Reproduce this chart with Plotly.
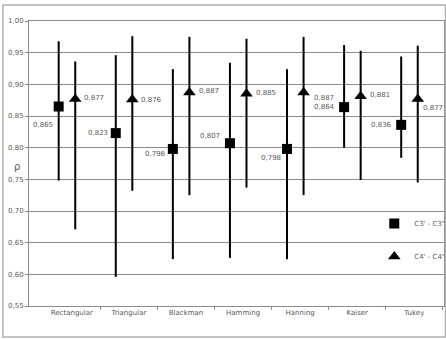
import plotly.graph_objects as go

categories = ["Rectangular", "Triangular", "Blackman", "Hamming", "Hanning", "Kaiser", "Tukey"]

# Series C3'-C3" (squares)
c3_mean = [0.865, 0.823, 0.798, 0.807, 0.798, 0.864, 0.836]
c3_high = [0.968, 0.946, 0.924, 0.934, 0.924, 0.962, 0.944]
c3_low = [0.748, 0.596, 0.624, 0.626, 0.624, 0.800, 0.784]

# Series C4'-C4" (triangles)
c4_mean = [0.877, 0.876, 0.887, 0.885, 0.887, 0.881, 0.877]
c4_high = [0.936, 0.976, 0.975, 0.972, 0.975, 0.953, 0.961]
c4_low = [0.671, 0.732, 0.725, 0.737, 0.725, 0.749, 0.745]

y_ticks = [0.55, 0.60, 0.65, 0.70, 0.75, 0.80, 0.85, 0.90, 0.95, 1.00]

# styles
C3_OFF = -0.23
C4_OFF = 0.06
c3_label_shift = [(-4, -18), (-6, 0), (-6, -5), (-8, 7), (-4, -9), (-7, 0), (-7, 0)]
c4_label_shift = [(7, 1), (7, 0), (8, 2), (8, 1), (8, -5), (7, 1), (3, -9)]

FONT = "DejaVu Sans"
TXT = "#5a5a5a"
GRID = "#8c8c8c"

idx = list(range(len(categories)))
x3 = [i + C3_OFF for i in idx]
x4 = [i + C4_OFF for i in idx]

def fmt(v):
    return f"{v:.3f}".replace(".", ",")

fig = go.Figure()
fig.add_trace(go.Scatter(
    x=x3, y=c3_mean, mode="markers", name="C3' - C3\"",
    marker=dict(symbol="square", size=10, color="black"),
    error_y=dict(type="data", symmetric=False,
                 array=[h - m for h, m in zip(c3_high, c3_mean)],
                 arrayminus=[m - l for l, m in zip(c3_low, c3_mean)],
                 width=0, thickness=2, color="black"),
    legendgroup="a",
))
fig.add_trace(go.Scatter(
    x=x4, y=c4_mean, mode="markers", name="C4' - C4\"",
    marker=dict(symbol="triangle-up", size=11, color="black"),
    error_y=dict(type="data", symmetric=False,
                 array=[h - m for h, m in zip(c4_high, c4_mean)],
                 arrayminus=[m - l for l, m in zip(c4_low, c4_mean)],
                 width=0, thickness=2, color="black"),
    legendgroup="b",
))

annotations = []
for x, v, (dx, dy) in zip(x3, c3_mean, c3_label_shift):
    annotations.append(dict(x=x, y=v, text=fmt(v), showarrow=False, xanchor="right",
                            yanchor="middle", xshift=dx, yshift=dy,
                            font=dict(family=FONT, size=7, color=TXT)))
for x, v, (dx, dy) in zip(x4, c4_mean, c4_label_shift):
    annotations.append(dict(x=x, y=v, text=fmt(v), showarrow=False, xanchor="left",
                            yanchor="middle", xshift=dx, yshift=dy,
                            font=dict(family=FONT, size=7, color=TXT)))
annotations.append(dict(x=-0.042, y=0.49, xref="paper", yref="paper", text="ρ",
                        showarrow=False, font=dict(family=FONT, size=10, color=TXT)))

fig.update_layout(
    width=446, height=339,
    margin=dict(l=29, r=2, t=21, b=33, autoexpand=False),
    paper_bgcolor="white", plot_bgcolor="white",
    separators=",.",
    font=dict(family=FONT, size=7, color=TXT),
    showlegend=True,
    legend=dict(x=0.832, y=0.34, xanchor="left", yanchor="top",
                bgcolor="rgba(0,0,0,0)", traceorder="grouped", tracegroupgap=14,
                font=dict(family=FONT, size=7, color=TXT), itemwidth=30),
    annotations=annotations,
    shapes=[dict(type="rect", xref="paper", yref="paper",
                 x0=-0.063, x1=1.0036, y0=-0.109, y1=1.056,
                 line=dict(color="#b0b0b0", width=1.5))],
)
fig.update_xaxes(
    automargin=False,
    range=[-0.75, 6.52], tickmode="array", tickvals=idx, ticktext=categories,
    ticks="", showgrid=False, zeroline=False,
    showline=True, linecolor=GRID, linewidth=1, mirror=True,
    tickfont=dict(family=FONT, size=7, color=TXT),
    minor=dict(tickmode="array", tickvals=[i + 0.5 for i in idx], ticks="outside",
               ticklen=3, tickcolor=GRID, showgrid=False),
)
fig.update_yaxes(
    automargin=False,
    range=[0.55, 1.0], tickmode="array", tickvals=y_ticks, tickformat=".2f",
    ticks="outside", ticklen=3, tickcolor=GRID,
    showgrid=True, gridcolor=GRID, gridwidth=1, zeroline=False,
    showline=True, linecolor=GRID, linewidth=1, mirror=True,
    tickfont=dict(family=FONT, size=7, color=TXT),
)

fig.write_html("out.html", config={"displayModeBar": False},
               post_script="document.body.style.margin='0px';")
